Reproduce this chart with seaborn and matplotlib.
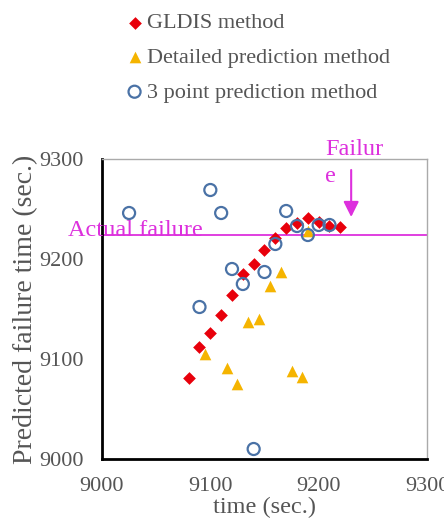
import matplotlib
matplotlib.use("Agg")
import matplotlib.pyplot as plt
import seaborn as sns
import pandas as pd

sns.set_style("white")
plt.rcParams['font.family'] = ['Liberation Serif', 'DejaVu Serif']

# GLDIS method
gldis_x = [9080, 9090, 9100, 9110, 9120, 9130, 9140, 9150, 9160, 9170, 9180, 9190, 9200, 9210, 9220]
gldis_y = [9081, 9112, 9126, 9144, 9164, 9185, 9195, 9209, 9221, 9231, 9236, 9241, 9237, 9233, 9232]

# Detailed prediction method
det_x = [9095, 9115, 9125, 9135, 9145, 9155, 9165, 9175, 9185, 9190]
det_y = [9105, 9091, 9075, 9137, 9140, 9173, 9187, 9088, 9082, 9228]

# 3 point prediction method
tp_x = [9025, 9090, 9100, 9110, 9120, 9130, 9140, 9150, 9160, 9170, 9180, 9190, 9200, 9210]
tp_y = [9246, 9152, 9269, 9246, 9190, 9175, 9010, 9187, 9215, 9248, 9233, 9224, 9234, 9234]

actual_failure = 9224
failure_time = 9230

x_ticks = [9000, 9100, 9200, 9300]
y_ticks = [9000, 9100, 9200, 9300]

labels = ["GLDIS method", "Detailed prediction method", "3 point prediction method"]

MAG = "#dd30dd"
GRAY = "#555555"

fig = plt.figure(figsize=(4.44, 5.21), dpi=100)
ax = fig.add_axes([102/444, 62/521, 325/444, 300/521])

ax.axhline(actual_failure, color=MAG, lw=1.3, zorder=1)

d_det = pd.DataFrame({"x": det_x, "y": det_y})
d_gl = pd.DataFrame({"x": gldis_x, "y": gldis_y})
d_tp = pd.DataFrame({"x": tp_x, "y": tp_y})

sns.scatterplot(data=d_gl, x="x", y="y", ax=ax, marker="D", s=42, color="#e8000b",
                edgecolor="#e8000b", linewidth=0, label=labels[0], zorder=3)
sns.scatterplot(data=d_det, x="x", y="y", ax=ax, marker="^", s=70, color="#f5b400",
                edgecolor="#f5b400", linewidth=0, label=labels[1], zorder=2)
sns.scatterplot(data=d_tp, x="x", y="y", ax=ax, marker="o", s=75, facecolor="none",
                edgecolor="#4a72a6", linewidth=1.6, label=labels[2], zorder=4)

ax.set_xlim(9000, 9300)
ax.set_ylim(9000, 9300)
ax.set_xticks(x_ticks)
ax.set_yticks(y_ticks)
ax.set_xticklabels([str(v) for v in x_ticks], color=GRAY, fontsize=16)
ax.set_yticklabels([str(v) for v in y_ticks], color=GRAY, fontsize=16)
ax.tick_params(axis='both', direction='in', length=5, width=2, color='black', pad=13)
ax.set_xlabel("time (sec.)", color=GRAY, fontsize=17.5, labelpad=0.5)
ax.set_ylabel("Predicted failure time (sec.)", color=GRAY, fontsize=20, labelpad=1)

for s in ["left", "bottom"]:
    ax.spines[s].set_color("black")
    ax.spines[s].set_linewidth(2)
for s in ["top", "right"]:
    ax.spines[s].set_color("#aaaaaa")
    ax.spines[s].set_linewidth(1)

ax.text(8969, actual_failure - 1, "Actual failure", color=MAG, fontsize=17.5,
        va="baseline", ha="left", clip_on=False)
ax.text(9206, 9320, "Failur\ne", color=MAG, fontsize=17.5, va="top", ha="left",
        linespacing=1.4, clip_on=False)
ax.annotate("", xy=(failure_time, 9242), xytext=(failure_time, 9289),
            arrowprops=dict(arrowstyle="-|>", color=MAG, lw=1.5, mutation_scale=23,
                            shrinkA=0, shrinkB=0),
            annotation_clip=False)

leg = ax.legend(loc="upper left", bbox_to_anchor=(119/444, 1 - 4/521),
                bbox_transform=fig.transFigure, frameon=False, fontsize=16,
                handlelength=0.6, handletextpad=0.25, labelspacing=0.63,
                borderaxespad=0)
for t in leg.get_texts():
    t.set_color(GRAY)

fig.savefig("out.png", dpi=100)
